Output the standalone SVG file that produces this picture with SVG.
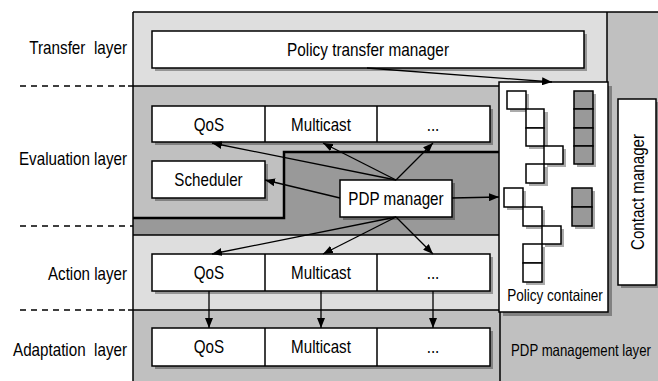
<svg xmlns="http://www.w3.org/2000/svg" width="658" height="381" viewBox="0 0 658 381">
<defs>
<style>
text{font-family:"Liberation Sans",Arial,sans-serif;fill:#000}
.lbl{font-size:18.5px}
.sm{font-size:16.5px}
.box{fill:#fff;stroke:#000;stroke-width:1.5}
.shd{fill:#000;fill-opacity:0.33}
.ln{stroke:#000;stroke-width:1.5;fill:none}
.ar{stroke:#000;stroke-width:1.3;fill:none;marker-end:url(#ah)}
.dash{stroke:#000;stroke-width:1.3;stroke-dasharray:6 5}
.dk{fill:#999;stroke:#000;stroke-width:1.5}
</style>
<marker id="ah" viewBox="0 0 10 8" refX="10" refY="4" markerWidth="10" markerHeight="8" markerUnits="userSpaceOnUse" orient="auto">
<path d="M0,0 L10,4 L0,8 z" fill="#000"/>
</marker>
</defs>
<rect width="658" height="381" fill="#fff"/>
<g id="backgrounds">
<polygon points="607,12 658,12 658,381 499,381 499,300 607,300" fill="#c0c0c0"/>
<rect x="133" y="12" width="474" height="74" fill="#dedede"/>
<rect x="133" y="86" width="366" height="149" fill="#999"/>
<polygon points="133,86 499,86 499,152 284,152 284,218 133,218" fill="#c0c0c0"/>
<polyline points="133,218 284,218 284,152 499,152" fill="none" stroke="#000" stroke-width="2.5"/>
<rect x="133" y="235" width="366" height="75" fill="#dedede"/>
<rect x="133" y="310" width="366" height="71" fill="#c0c0c0"/>
<line class="ln" x1="133" y1="12" x2="658" y2="12"/>
<line class="ln" x1="133" y1="12" x2="133" y2="381"/>
<line class="ln" x1="607" y1="12" x2="607" y2="82"/>
<line class="ln" x1="128" y1="86" x2="499" y2="86"/>
<line class="ln" x1="133" y1="235" x2="499" y2="235"/>
<line class="ln" x1="128" y1="310" x2="499" y2="310"/>
<line class="ln" x1="500" y1="310" x2="500" y2="381"/>
</g>
<g id="layer-labels">
<line class="dash" x1="20" y1="86" x2="128" y2="86"/>
<line class="dash" x1="20" y1="226" x2="133" y2="226"/>
<line class="dash" x1="20" y1="310" x2="128" y2="310"/>
<text class="lbl" x="127" y="54" text-anchor="end" xml:space="preserve" textLength="97.8" lengthAdjust="spacingAndGlyphs">Transfer  layer</text>
<text class="lbl" x="127" y="165" text-anchor="end" textLength="108" lengthAdjust="spacingAndGlyphs">Evaluation layer</text>
<text class="lbl" x="127" y="280" text-anchor="end" textLength="79" lengthAdjust="spacingAndGlyphs">Action layer</text>
<text class="lbl" x="127" y="356" text-anchor="end" xml:space="preserve" textLength="114" lengthAdjust="spacingAndGlyphs">Adaptation  layer</text>
<text class="sm" transform="translate(581,356) scale(0.8,1)" text-anchor="middle">PDP management layer</text>
</g>
<g id="transfer-manager">
<rect class="shd" x="155" y="34" width="432" height="37"/>
<rect class="box" x="152" y="31" width="432" height="37"/>
<text class="lbl" x="368" y="56" text-anchor="middle" textLength="162" lengthAdjust="spacingAndGlyphs">Policy transfer manager</text>
</g>
<g id="eval-row">
<rect class="shd" x="155" y="109" width="338" height="36"/>
<rect class="box" x="152" y="106" width="338" height="36"/>
<line class="ln" x1="265" y1="106" x2="265" y2="142"/>
<line class="ln" x1="377" y1="106" x2="377" y2="142"/>
<text class="lbl" x="209" y="131" text-anchor="middle" textLength="30.4" lengthAdjust="spacingAndGlyphs">QoS</text>
<text class="lbl" x="321" y="131" text-anchor="middle" textLength="59.8" lengthAdjust="spacingAndGlyphs">Multicast</text>
<text class="lbl" x="433" y="131" text-anchor="middle" textLength="12.7" lengthAdjust="spacingAndGlyphs">...</text>
</g>
<g id="scheduler">
<rect class="shd" x="155" y="164" width="113" height="37"/>
<rect class="box" x="152" y="161" width="113" height="37"/>
<text class="lbl" x="208.5" y="186" text-anchor="middle" textLength="68.3" lengthAdjust="spacingAndGlyphs">Scheduler</text>
</g>
<g id="pdp-manager">
<rect class="shd" x="343" y="183" width="112" height="37"/>
<rect class="box" x="340" y="180" width="112" height="37"/>
<text class="lbl" x="396" y="205" text-anchor="middle" textLength="95.3" lengthAdjust="spacingAndGlyphs">PDP manager</text>
</g>
<g id="action-row">
<rect class="shd" x="155" y="257" width="338" height="37"/>
<rect class="box" x="152" y="254" width="338" height="37"/>
<line class="ln" x1="265" y1="254" x2="265" y2="291"/>
<line class="ln" x1="377" y1="254" x2="377" y2="291"/>
<text class="lbl" x="209" y="279" text-anchor="middle" textLength="30.4" lengthAdjust="spacingAndGlyphs">QoS</text>
<text class="lbl" x="321" y="279" text-anchor="middle" textLength="59.8" lengthAdjust="spacingAndGlyphs">Multicast</text>
<text class="lbl" x="433" y="279" text-anchor="middle" textLength="12.7" lengthAdjust="spacingAndGlyphs">...</text>
</g>
<g id="adaptation-row">
<rect class="shd" x="155" y="331" width="338" height="38"/>
<rect class="box" x="152" y="328" width="338" height="38"/>
<line class="ln" x1="265" y1="328" x2="265" y2="366"/>
<line class="ln" x1="377" y1="328" x2="377" y2="366"/>
<text class="lbl" x="209" y="353" text-anchor="middle" textLength="30.4" lengthAdjust="spacingAndGlyphs">QoS</text>
<text class="lbl" x="321" y="353" text-anchor="middle" textLength="59.8" lengthAdjust="spacingAndGlyphs">Multicast</text>
<text class="lbl" x="433" y="353" text-anchor="middle" textLength="12.7" lengthAdjust="spacingAndGlyphs">...</text>
</g>
<g id="policy-container">
<rect class="shd" x="503" y="86" width="109" height="230"/>
<rect class="box" x="499" y="82" width="109" height="230"/>
<g class="shd">
<rect x="510" y="94" width="19" height="18"/>
<rect x="529" y="112" width="19" height="37"/>
<rect x="547" y="149" width="19" height="18"/>
<rect x="529" y="167" width="19" height="19"/>
<rect x="577" y="94" width="19" height="73"/>
<rect x="507" y="191" width="19" height="19"/>
<rect x="526" y="210" width="19" height="19"/>
<rect x="545" y="229" width="19" height="18"/>
<rect x="526" y="247" width="19" height="38"/>
<rect x="575" y="191" width="20" height="38"/>
</g>
<rect class="box" x="507" y="91" width="19" height="18"/>
<rect class="box" x="526" y="109" width="18" height="19"/>
<rect class="box" x="526" y="128" width="18" height="18"/>
<rect class="box" x="544" y="146" width="19" height="18"/>
<rect class="box" x="526" y="164" width="18" height="19"/>
<rect class="dk" x="574" y="91" width="19" height="18"/>
<rect class="dk" x="574" y="109" width="19" height="19"/>
<rect class="dk" x="574" y="128" width="19" height="18"/>
<rect class="dk" x="574" y="146" width="19" height="18"/>
<rect class="box" x="504" y="188" width="19" height="19"/>
<rect class="box" x="523" y="207" width="19" height="19"/>
<rect class="box" x="542" y="226" width="19" height="18"/>
<rect class="box" x="523" y="244" width="19" height="19"/>
<rect class="box" x="523" y="263" width="19" height="19"/>
<rect class="dk" x="572" y="188" width="20" height="19"/>
<rect class="dk" x="572" y="207" width="20" height="19"/>
<text class="sm" x="555" y="301" text-anchor="middle" textLength="95.5" lengthAdjust="spacingAndGlyphs">Policy container</text>
</g>
<g id="contact-manager">
<rect class="shd" x="621" y="102" width="38" height="186"/>
<rect class="box" x="618" y="99" width="38" height="186"/>
<text class="lbl" transform="translate(643.5,192) rotate(-90)" text-anchor="middle" textLength="116" lengthAdjust="spacingAndGlyphs">Contact manager</text>
</g>
<g id="connectors">
<line class="ar" x1="367" y1="68" x2="552" y2="82"/>
<line class="ar" x1="396" y1="180" x2="212" y2="143"/>
<line class="ar" x1="396" y1="180" x2="323" y2="143"/>
<line class="ar" x1="396" y1="180" x2="433" y2="143"/>
<line class="ar" x1="340" y1="198" x2="265" y2="180"/>
<line class="ar" x1="452" y1="198" x2="499" y2="197"/>
<line class="ar" x1="396" y1="217" x2="212" y2="254"/>
<line class="ar" x1="396" y1="217" x2="323" y2="254"/>
<line class="ar" x1="396" y1="217" x2="433" y2="254"/>
<line class="ar" x1="209" y1="291" x2="209" y2="328"/>
<line class="ar" x1="321" y1="291" x2="321" y2="328"/>
<line class="ar" x1="433" y1="291" x2="433" y2="328"/>
</g>
</svg>
